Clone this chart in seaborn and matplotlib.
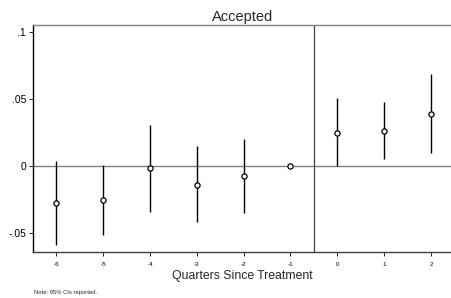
import numpy as np
import pandas as pd
import matplotlib
matplotlib.use("Agg")
import matplotlib.pyplot as plt
import seaborn as sns

# ---------------------------------------------------
# DATA
# ---------------------------------------------------

quarters = [-6, -5, -4, -3, -2, -1, 0, 1, 2]
estimate = [-0.0276, -0.0254, -0.0017, -0.0137, -0.0077, 0.0, 0.0249, 0.0264, 0.0390]
ci_low = [-0.0590, -0.0515, -0.0343, -0.0418, -0.0350, 0.0, 0.0000, 0.0050, 0.0095]
ci_high = [0.0037, 0.0007, 0.0306, 0.0149, 0.0200, 0.0, 0.0505, 0.0475, 0.0689]

ytick_vals = [-0.05, 0, 0.05, 0.1]
ytick_labels = ["-.05", "0", ".05", ".1"]

df = pd.DataFrame({
    "quarter": quarters,
    "estimate": estimate,
    "low": ci_low,
    "high": ci_high
})

# ---------------------------------------------------
# PLOT
# ---------------------------------------------------

sns.set_style("white")
plt.rcParams["font.family"] = ["Liberation Sans", "DejaVu Sans"]

fig = plt.figure(figsize=(4.52, 2.98), dpi=100)
ax = fig.add_axes([0.073, 0.154, 0.927, 0.762])

ax.axhline(0, color="#808080", linewidth=1.0, zorder=1)
ax.axvline(-0.5, color="#404040", linewidth=0.9, zorder=1)

ax.vlines(
    df["quarter"],
    df["low"],
    df["high"],
    color="black",
    linewidth=1.0,
    zorder=2
)

sns.scatterplot(
    data=df,
    x="quarter",
    y="estimate",
    marker="o",
    s=14,
    facecolor="white",
    edgecolor="black",
    linewidth=0.9,
    zorder=3,
    ax=ax
)

ax.set_xlim(-6.5, 2.45)
ax.set_ylim(-0.064, 0.105)

ax.set_xticks(quarters)
ax.set_xticklabels([str(q) for q in quarters], fontsize=4.5)
ax.set_yticks(ytick_vals)
ax.set_yticklabels(ytick_labels, fontsize=7.5)

ax.tick_params(axis="both", direction="out", length=3, width=0.6, colors="black", bottom=True, left=True)
ax.tick_params(axis="x", pad=4)
ax.tick_params(axis="y", pad=2)

ax.set_xlabel("Quarters Since Treatment", fontsize=8.8, labelpad=2)
ax.set_ylabel("")
ax.set_title("Accepted", fontsize=10.5, pad=3)

ax.spines["left"].set_color("black")
ax.spines["left"].set_linewidth(1.0)
ax.spines["bottom"].set_color("#404040")
ax.spines["bottom"].set_linewidth(1.0)
ax.spines["top"].set_color("#808080")
ax.spines["top"].set_linewidth(1.0)
ax.spines["right"].set_visible(False)

fig.text(0.075, 0.012, "Note: 95% CIs reported.", fontsize=4.2)

fig.savefig("out.png", dpi=100)
